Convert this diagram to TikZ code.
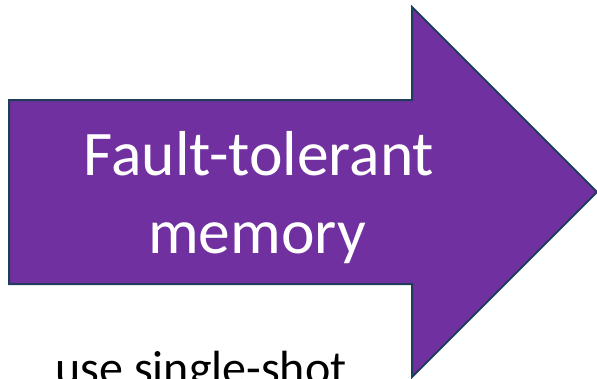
\documentclass[tikz,border=0pt]{standalone}
\usepackage{fontspec}
\setmainfont{Carlito}
\definecolor{arrowfill}{HTML}{7030A0}
\definecolor{arrowline}{HTML}{213D5C}
\begin{document}
\begin{tikzpicture}[x=1pt,y=-1pt,
  bigarrow/.style={fill=arrowfill,draw=arrowline,line width=2pt,line join=miter},
  arrowtext/.style={text=white,font=\fontsize{63.5}{78}\selectfont,align=center,inner sep=0pt},
  notetext/.style={text=black,font=\fontsize{48}{56}\selectfont,inner sep=0pt,anchor=base}]
  \useasboundingbox (0,0) rectangle (597,378);
  \clip (0,0) rectangle (597,378);
  % block arrow pointing right
  \draw[bigarrow] (9,100) -- (412,100) -- (412,7) -- (597,192)
    -- (412,377) -- (412,284) -- (9,284) -- cycle;
  \node[arrowtext,anchor=base] (l1) at (259,175) {Fault-tolerant};
  \node[arrowtext,anchor=base] (l2) at (257,253) {memory};
  \node[notetext] (note) at (201,384) {use single-shot};
\end{tikzpicture}
\end{document}
